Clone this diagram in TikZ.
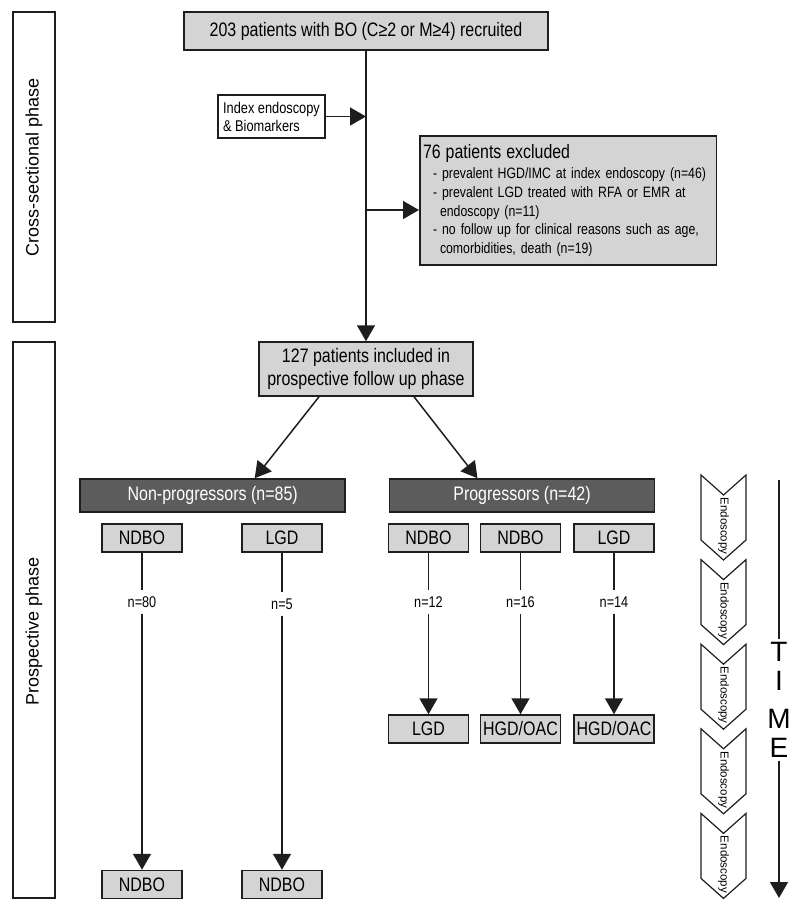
\documentclass[tikz,border=0pt]{standalone}
\usepackage{fontspec}
\setmainfont{Liberation Sans}
\newfontfamily\narrowfont[FakeStretch=0.82]{Liberation Sans}
\usepackage{tikz}
\usetikzlibrary{arrows.meta, positioning, calc}
\definecolor{boxgray}{RGB}{212,212,212}
\definecolor{groupgray}{RGB}{92,92,92}
\definecolor{linecolor}{RGB}{30,30,30}

\begin{document}
\begin{tikzpicture}[x=1pt, y=-1pt,
    conn/.style={line width=1.5pt, linecolor},
    arr/.style={conn, -{Triangle[length=16pt, width=18pt]}},
    flowbox/.style={draw=linecolor, line width=1.5pt, fill=boxgray, font=\narrowfont\fontsize{19.5}{23}\selectfont, align=center, inner sep=2pt},
    smallbox/.style={flowbox, minimum width=80, minimum height=28},
    groupbox/.style={flowbox, fill=groupgray, text=white, minimum width=265, minimum height=33},
    phasebox/.style={draw=linecolor, line width=1.5pt, fill=white, rotate=90, font=\fontsize{18}{20}\selectfont, minimum height=42, inner sep=0pt},
    countlabel/.style={font=\narrowfont\fontsize{15.5}{18}\selectfont, fill=white, inner xsep=1pt, inner ysep=6pt},
    chevron/.style={draw=linecolor, line width=1.2pt, fill=white},
    timeletter/.style={font=\fontsize{28}{30}\selectfont, inner sep=3pt},
  ]
    \useasboundingbox (0,0) rectangle (800,911);

    % Phases
    \node[phasebox, minimum width=310] (crossphase) at (34,167) {Cross-sectional phase};
    \node[phasebox, minimum width=556] (prosphase) at (34,620) {Prospective phase\hspace*{22pt}};

    % === Cross-sectional ===
    \node[flowbox, minimum width=364, minimum height=38] (recruited) at (366,31) {203 patients with BO (C≥2 or M≥4) recruited};

    \node[flowbox, fill=white, minimum width=107, minimum height=43, align=left, inner xsep=4pt,
          font=\narrowfont\fontsize{15.6}{18}\selectfont] (index) at (271.5,116.5) {Index endoscopy\\\& Biomarkers};

    \node[flowbox, minimum width=296.5, minimum height=129, text width=290, align=left, inner xsep=3pt,
          font=\narrowfont\fontsize{15}{18.7}\selectfont] (excluded) at (568,200.5) {%
        {\fontsize{19.4}{21}\selectfont 76 patients excluded}\\[1.5pt]
        \hspace*{10pt}- prevalent HGD/IMC at index endoscopy (n=46)\\
        \hspace*{10pt}- prevalent LGD treated with RFA or EMR at\\
        \hspace*{17pt}endoscopy (n=11)\\
        \hspace*{10pt}- no follow up for clinical reasons such as age,\\
        \hspace*{17pt}comorbidities, death (n=19)};

    \node[flowbox, minimum width=214, minimum height=54] (included) at (366,369) {127 patients included in\\prospective follow up phase};

    % Fleches principales
    \draw[arr] (recruited) -- (included);
    \coordinate (j1) at (index.east -| recruited.south);
    \draw[arr] (index) -- (j1);
    \coordinate (j2) at (366,210);
    \draw[arr] (j2) -- (j2 -| excluded.west);

    % === Prospective ===
    \node[groupbox] (nonprog) at (212.7,495.5) {Non-progressors (n=85)};
    \node[groupbox] (prog) at (522,495.5) {Progressors (n=42)};
    \draw[arr] ([xshift=-47pt]included.south) -- ([xshift=42pt]nonprog.north);
    \draw[arr] ([xshift=48pt]included.south) -- ([xshift=-44.5pt]prog.north);

    % Non-progressors
    \node[smallbox] (np1) at (142,538) {NDBO};
    \node[smallbox] (np2) at (282,538) {LGD};
    \node[countlabel] (n80) at (142,602) {n=80};
    \node[countlabel] (n5) at (282,604) {n=5};
    \node[smallbox] (np1end) at (142,884.5) {NDBO};
    \node[smallbox] (np2end) at (282,884.5) {NDBO};
    \draw[conn] (np1) -- (n80);
    \draw[arr] (n80) -- (np1end);
    \draw[conn] (np2) -- (n5);
    \draw[arr] (n5) -- (np2end);

    % Progressors
    \node[smallbox] (p1) at (428.5,538) {NDBO};
    \node[smallbox] (p2) at (520.5,538) {NDBO};
    \node[smallbox] (p3) at (614,538) {LGD};
    \node[countlabel] (n12) at (428.5,602) {n=12};
    \node[countlabel] (n16) at (520.5,602) {n=16};
    \node[countlabel] (n14) at (614,602) {n=14};
    \node[smallbox] (p1end) at (428.5,729) {LGD};
    \node[smallbox] (p2end) at (520.5,729) {HGD/OAC};
    \node[smallbox] (p3end) at (614,729) {HGD/OAC};
    \draw[conn] (p1) -- (n12);
    \draw[arr] (n12) -- (p1end);
    \draw[conn] (p2) -- (n16);
    \draw[arr] (n16) -- (p2end);
    \draw[conn] (p3) -- (n14);
    \draw[arr] (n14) -- (p3end);

    % Endoscopies
    \foreach \k in {0,...,4} {
        \pgfmathsetmacro{\chevtop}{475+84.6*\k}
        \draw[chevron] (701,\chevtop) -- (723.5,\chevtop+20) -- (746,\chevtop) -- (746,\chevtop+65)
            -- (723.5,\chevtop+85) -- (701,\chevtop+65) -- cycle;
        \node[rotate=-90, font=\fontsize{11.5}{12}\selectfont, inner sep=0pt] (endo\k) at (723.5,\chevtop+51) {Endoscopy};
    }

    % Temps
    \coordinate (timetop) at (779,480);
    \coordinate (timebot) at (779,898);
    \node[timeletter] (tT) at (779,652) {T};
    \node[timeletter] (tI) at (779,681) {I};
    \node[timeletter] (tM) at (779,719) {M};
    \node[timeletter] (tE) at (779,748) {E};
    \draw[conn] (timetop) -- (tT);
    \draw[arr] (tE) -- (timebot);
\end{tikzpicture}
\end{document}
